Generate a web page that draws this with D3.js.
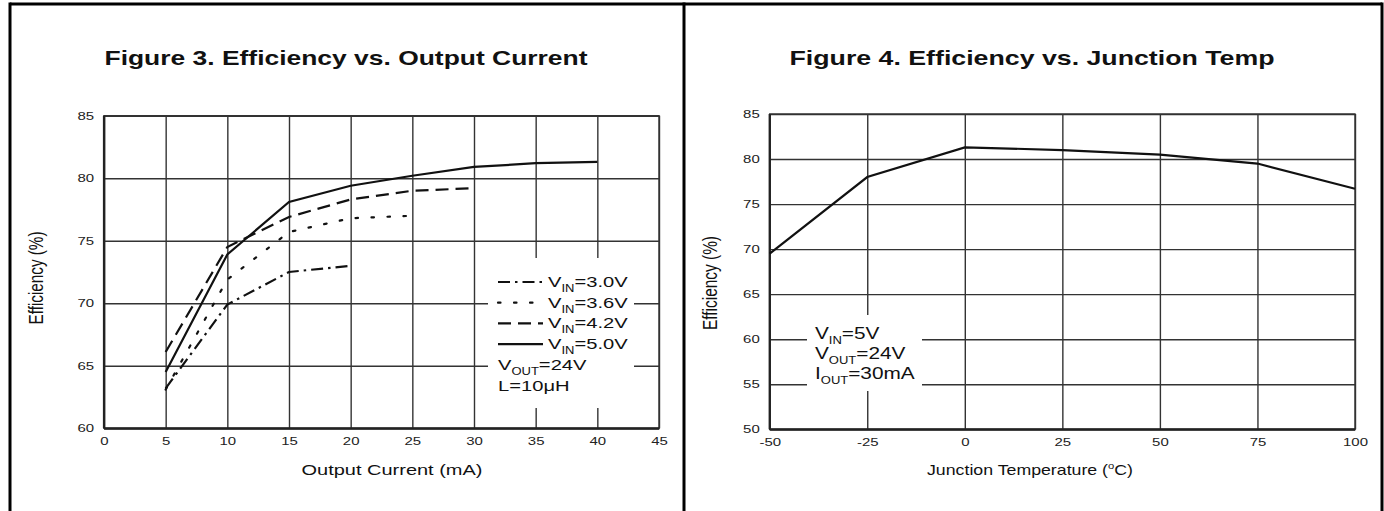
<!DOCTYPE html>
<meta charset="utf-8">
<style>
body{margin:0;background:#fff;}
text{font-family:"Liberation Sans",Arial,sans-serif;fill:#111;}
.tick text{font-size:11.5px;fill:#222;}
.grid line,.grid path{stroke:#333;stroke-width:1.4px;}
.curve{fill:none;stroke:#111;stroke-width:2.2px;}
</style>
<body>
<script src="https://d3js.org/d3.v7.min.js"></script>
<script>

// Figure 3 data
var currentMA = [5,10,15,20,25,30,35,40];
var vin30 = [63.2,69.9,72.5,73.0];
var vin36 = [63.1,71.9,75.7,76.8,77.0];
var vin42 = [66.1,74.5,76.9,78.3,79.0,79.2];
var vin50 = [64.5,73.9,78.1,79.4,80.2,80.9,81.2,81.3];
var vinNames = ["3.0V","3.6V","4.2V","5.0V"];
var xTicks3 = [0,5,10,15,20,25,30,35,40,45];
var yTicks3 = [60,65,70,75,80,85];

// Figure 4 data
var tempC = [-50,-25,0,25,50,75,100];
var effTemp = [69.5,78.0,81.3,81.0,80.5,79.5,76.7];
var xTicks4 = [-50,-25,0,25,50,75,100];
var yTicks4 = [50,55,60,65,70,75,80,85];

var dashes = ["12,5,2.5,5","2.5,13.5","13,7",null];
var WIDE = 1.3; // the plots in the original are stretched sideways

var svg = d3.select("body").append("svg").attr("width",1384).attr("height",511);

function stretch(sel,k){
  sel.each(function(){
    this.setAttribute("textLength",this.getComputedTextLength()*k);
    this.setAttribute("lengthAdjust","spacingAndGlyphs");
  });
}

// outer frame
var fr = svg.append("g").attr("stroke","#000").attr("stroke-width",3);
fr.append("line").attr("x1",10).attr("y1",4).attr("x2",1382).attr("y2",4);
fr.append("line").attr("x1",10).attr("y1",2.5).attr("x2",10).attr("y2",511);
fr.append("line").attr("x1",684).attr("y1",2.5).attr("x2",684).attr("y2",511);
fr.append("line").attr("x1",1382).attr("y1",2.5).attr("x2",1382).attr("y2",511);

function title(txt,cx,w){
  svg.append("text").attr("x",cx).attr("y",65).attr("text-anchor","middle")
    .attr("font-size",21).attr("font-weight","bold")
    .attr("textLength",w).attr("lengthAdjust","spacingAndGlyphs").text(txt);
}
title("Figure 3. Efficiency vs. Output Current",346,483);
title("Figure 4. Efficiency vs. Junction Temp",1032,485);

function grid(g,x,y,xt,yt){
  var w = x.range()[1]-x.range()[0], h = y.range()[0]-y.range()[1];
  g.append("g").attr("class","grid").attr("transform","translate(0,"+y.range()[0]+")")
    .call(d3.axisBottom(x).tickValues(xt).tickFormat(String).tickSize(-h).tickPadding(9).tickSizeOuter(0));
  g.append("g").attr("class","grid").attr("transform","translate("+x.range()[0]+",0)")
    .call(d3.axisLeft(y).tickValues(yt).tickFormat(String).tickSize(-w).tickPadding(10).tickSizeOuter(0));
  g.append("rect").attr("x",x.range()[0]).attr("y",y.range()[1]).attr("width",w).attr("height",h)
    .attr("fill","none").attr("stroke","#333").attr("stroke-width",1.4);
  g.append("line").attr("x1",x.range()[0]).attr("x2",x.range()[0]).attr("y1",y.range()[1]).attr("y2",y.range()[0])
    .attr("stroke","#222").attr("stroke-width",2.2);
  g.append("line").attr("x1",x.range()[0]).attr("x2",x.range()[1]).attr("y1",y.range()[0]).attr("y2",y.range()[0])
    .attr("stroke","#222").attr("stroke-width",2.2);
  stretch(g.selectAll(".tick text"),WIDE);
}

function sub(t,main,s,rest){
  t.append("tspan").text(main);
  t.append("tspan").attr("font-size","10px").attr("dy",5).text(s);
  t.append("tspan").attr("dy",-5).text(rest);
  return t;
}

// ---------- Figure 3 ----------
var x3 = d3.scaleLinear().domain([0,45]).range([104,659]);
var y3 = d3.scaleLinear().domain([60,85]).range([428.3,115.7]);
var g3 = svg.append("g");
grid(g3,x3,y3,xTicks3,yTicks3);
g3.append("rect").attr("x",488).attr("y",258).attr("width",146).attr("height",150).attr("fill","#fff");

var series = [vin30,vin36,vin42,vin50];
var line3 = d3.line().x(function(d,i){return x3(currentMA[i]);}).y(function(d){return y3(d);});
series.forEach(function(s,i){
  g3.append("path").attr("class","curve").attr("d",line3(s))
    .attr("stroke-dasharray",dashes[i]).attr("stroke-linecap",i==1?"round":"butt");
});

var lg = g3.append("g").attr("font-size","15.5px");
vinNames.forEach(function(n,i){
  var yb = 287 + i*20.7;
  lg.append("line").attr("class","curve").attr("x1",498).attr("x2",543).attr("y1",yb-5).attr("y2",yb-5)
    .attr("stroke","#111").attr("stroke-dasharray",dashes[i]).attr("stroke-linecap",i==1?"round":"butt");
  sub(lg.append("text").attr("x",548).attr("y",yb),"V","IN","="+n);
});
sub(lg.append("text").attr("x",498).attr("y",287+4*20.7),"V","OUT","=24V");
lg.append("text").attr("x",498).attr("y",287+5*20.7).text("L=10\u03bcH");
stretch(lg.selectAll("text"),WIDE);

svg.append("text").attr("x",392).attr("y",475).attr("text-anchor","middle").attr("font-size","15px")
  .attr("textLength",181).attr("lengthAdjust","spacingAndGlyphs").text("Output Current (mA)");
svg.append("text").attr("transform","translate(43,278) rotate(-90) scale(1,"+WIDE+")").attr("text-anchor","middle")
  .attr("font-size","15px").attr("textLength",93).attr("lengthAdjust","spacingAndGlyphs").text("Efficiency (%)");

// ---------- Figure 4 ----------
var x4 = d3.scaleLinear().domain([-50,100]).range([769.7,1355]);
var y4 = d3.scaleLinear().domain([50,85]).range([429.3,114]);
var g4 = svg.append("g");
grid(g4,x4,y4,xTicks4,yTicks4);
g4.append("rect").attr("x",807).attr("y",315).attr("width",115).attr("height",76).attr("fill","#fff");

var line4 = d3.line().x(function(d,i){return x4(tempC[i]);}).y(function(d){return y4(d);});
g4.append("path").attr("class","curve").attr("d",line4(effTemp));

var ann = g4.append("g").attr("font-size","16px");
sub(ann.append("text").attr("x",815).attr("y",339),"V","IN","=5V");
sub(ann.append("text").attr("x",815).attr("y",359),"V","OUT","=24V");
sub(ann.append("text").attr("x",815).attr("y",379),"I","OUT","=30mA");
stretch(ann.selectAll("text"),WIDE);

var xt4 = svg.append("text").attr("x",1030).attr("y",475).attr("text-anchor","middle").attr("font-size","15px");
xt4.append("tspan").text("Junction Temperature (");
xt4.append("tspan").attr("font-size","9.5px").attr("dy",-6).text("o");
xt4.append("tspan").attr("dy",6).text("C)");
xt4.attr("textLength",206).attr("lengthAdjust","spacingAndGlyphs");
svg.append("text").attr("transform","translate(717,283) rotate(-90) scale(1,"+WIDE+")").attr("text-anchor","middle")
  .attr("font-size","15px").attr("textLength",94).attr("lengthAdjust","spacingAndGlyphs").text("Efficiency (%)");
</script>
</body>
